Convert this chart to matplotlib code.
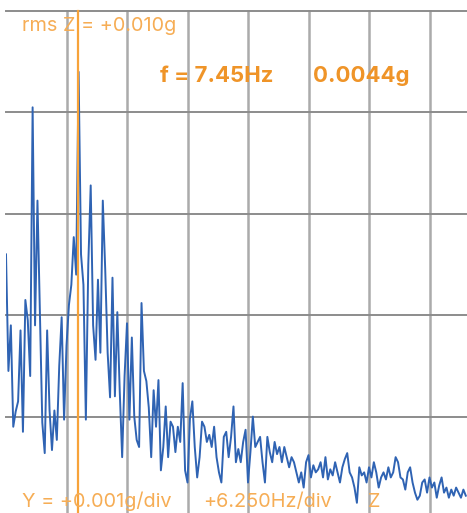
import matplotlib
matplotlib.use("Agg")
import matplotlib.pyplot as plt
import numpy as np

# spectrum Z axis, amplitude in mg, one value per 0.25 Hz bin
df = 0.25
amp_mg = [
    2.60, 1.45, 1.90, 0.90, 1.05, 1.15, 1.85, 0.85, 2.15, 1.95,
    1.40, 4.05, 1.90, 3.13, 2.05, 0.94, 0.64, 1.85, 1.06, 0.67,
    1.06, 0.77, 1.50, 1.98, 0.97, 1.70, 2.10, 2.30, 2.77, 2.40,
    4.40, 2.60, 2.30, 0.97, 2.50, 3.28, 1.90, 1.56, 2.35, 1.63,
    3.13, 2.45, 1.63, 1.19, 2.37, 1.20, 2.03, 1.25, 0.60, 1.40,
    1.92, 0.97, 1.78, 1.00, 0.77, 0.70, 2.12, 1.45, 1.35, 1.09,
    0.60, 1.26, 0.90, 1.36, 0.47, 0.70, 1.10, 0.60, 0.95, 0.90,
    0.65, 0.90, 0.75, 1.33, 0.47, 0.35, 0.98, 1.15, 0.70, 0.40,
    0.60, 0.95, 0.90, 0.75, 0.82, 0.70, 0.90, 0.60, 0.45, 0.35,
    0.80, 0.85, 0.60, 0.80, 1.10, 0.55, 0.68, 0.55, 0.75, 0.87,
    0.35, 0.65, 1.00, 0.70, 0.75, 0.80, 0.55, 0.35, 0.80, 0.65,
    0.55, 0.75, 0.63, 0.70, 0.55, 0.70, 0.60, 0.50, 0.60, 0.55,
    0.45, 0.35, 0.45, 0.30, 0.55, 0.62, 0.40, 0.52, 0.45, 0.48,
    0.55, 0.40, 0.60, 0.38, 0.48, 0.42, 0.55, 0.45, 0.35, 0.50,
    0.58, 0.64, 0.45, 0.40, 0.30, 0.15, 0.50, 0.42, 0.45, 0.35,
    0.50, 0.40, 0.55, 0.45, 0.30, 0.40, 0.45, 0.38, 0.50, 0.40,
    0.45, 0.60, 0.55, 0.40, 0.38, 0.28, 0.45, 0.50, 0.35, 0.25,
    0.18, 0.22, 0.35, 0.38, 0.25, 0.40, 0.30, 0.35, 0.20, 0.32,
    0.40, 0.25, 0.30, 0.20, 0.28, 0.22, 0.30, 0.25, 0.20, 0.28,
    0.22,
]
freq = np.arange(len(amp_mg)) * df
amp_g = np.array(amp_mg) * 1e-3

x_div = 6.25      # Hz per division
y_div = 0.001     # g per division
cursor_f = 7.45
rms_label = "rms Z = +0.010g"
cursor_label = "f = 7.45Hz"
cursor_amp = "0.0044g"
y_scale_label = "Y = +0.001g/div"
x_scale_label = "+6.250Hz/div"
axis_label = "Z"

W, H = 467, 513
fig = plt.figure(figsize=(W / 100, H / 100), dpi=100)
ax = fig.add_axes([6 / W, 0, 461 / W, 502 / H])
ax.set_xlim(0, 461 / 60.5 * x_div)
ax.set_ylim(5 / 101.5 * y_div, 5 * y_div)
ax.set_axis_off()

for i in range(1, 8):
    ax.axvline(i * x_div, color='#ababab', lw=1.8, zorder=1, clip_on=False)
for j in range(1, 6):
    ax.axhline(j * y_div, color='#8c8c8c', lw=1.4, zorder=1, clip_on=False)

ax.plot(freq, amp_g, color='#2f63b3', lw=1.4, zorder=2)
ax.axvline(cursor_f, color='#f7a33a', lw=1.6, zorder=3, clip_on=False)

fam = ['Inter', 'DejaVu Sans']
light = '#f6ad55'
dark = '#ef9428'


def put(x, y, s, **kw):
    fig.text(x / W, 1 - y / H, s, family=fam, va='baseline', ha='left', **kw)


put(22, 31, rms_label, color=light, fontsize=14.3)
put(160, 82, cursor_label, color=dark, fontsize=16, fontweight='bold')
put(313, 82, cursor_amp, color=dark, fontsize=16, fontweight='bold')
put(22, 507, y_scale_label, color=light, fontsize=14.3)
put(203, 507, x_scale_label, color=light, fontsize=14.3)
put(368, 507, axis_label, color=light, fontsize=14.3)

fig.savefig('out.png', dpi=100)
